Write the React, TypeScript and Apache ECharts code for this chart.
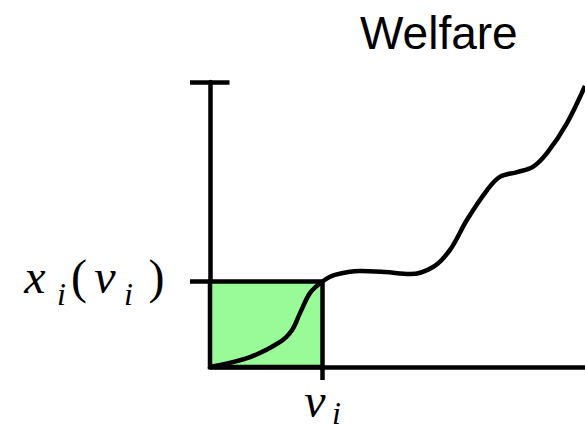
import React, { useEffect, useRef } from "react";
import * as echarts from "echarts";

// Welfare curve (abstract units: x in [0,10], y in [0,10])
const curveX = [0, 1.07, 1.87, 2.19, 2.4, 2.67, 3.0, 3.33, 4.0, 4.67, 5.33, 5.95, 6.4, 6.85, 7.39, 7.73, 8.19, 8.61, 8.99, 9.52, 10];
const curveY = [0, 0.35, 0.88, 1.3, 1.89, 2.6, 3.0, 3.23, 3.37, 3.33, 3.26, 3.51, 4.11, 5.16, 6.21, 6.67, 6.84, 7.02, 7.51, 8.56, 9.86];

const valueV = 3; // v_i
const valueX = 3; // x_i(v_i)
const axisMax = 10;
const yTickValues = [valueX, axisMax];
const xTickValues = [valueV];
const titleText = "Welfare";
// math label pieces: [glyph, kind]  kind: m = main italic, s = subscript italic, p = upright paren
const xLabelParts = [["v", "m"], ["i", "s"]];
const yLabelParts = [["x", "m"], ["i", "s"], ["(", "p"], ["v", "m"], ["i", "s"], [")", "p"]];

const mathFont = "Liberation Serif";

export default function App() {
  const ref = useRef<HTMLDivElement>(null);
  useEffect(() => {
    const chart = echarts.init(ref.current!, null, { renderer: "svg" });
    const lw = 4.5;
    chart.setOption({
      animation: false,
      title: {
        text: titleText,
        left: 360,
        top: 10,
        padding: 0,
        textStyle: {
          fontFamily: "Liberation Sans",
          fontSize: 46,
          fontWeight: "normal",
          color: "#000",
          lineHeight: 46,
        },
      },
      grid: { left: 210, right: 0, top: 82, bottom: 60, containLabel: false, outerBoundsMode: "none" },
      xAxis: {
        type: "value",
        min: 0,
        max: axisMax,
        splitLine: { show: false },
        axisLine: { show: true, lineStyle: { color: "#000", width: lw } },
        axisTick: {
          show: true,
          customValues: xTickValues,
          length: 13,
          inside: false,
          lineStyle: { color: "#000", width: lw },
        },
        axisLabel: { show: false },
      },
      yAxis: {
        type: "value",
        min: 0,
        max: axisMax,
        splitLine: { show: false },
        axisLine: { show: true, lineStyle: { color: "#000", width: lw } },
        axisTick: {
          show: true,
          customValues: yTickValues,
          length: 20,
          inside: false,
          lineStyle: { color: "#000", width: lw },
        },
        axisLabel: { show: false },
      },
      series: [
        {
          type: "line",
          data: curveX.map((x, i) => [x, curveY[i]]),
          smooth: 0.35,
          showSymbol: false,
          clip: false,
          lineStyle: { color: "#000", width: lw },
          z: 5,
          markArea: {
            silent: true,
            label: { show: false },
            itemStyle: { color: "#98FB98", borderColor: "#000", borderWidth: lw },
            data: [[{ coord: [0, 0] }, { coord: [valueV, valueX] }]],
          },
          markLine: {
            silent: true,
            symbol: "none",
            label: { show: false },
            lineStyle: { color: "#000", width: lw, type: "solid" },
            data: [[{ coord: [0, axisMax] }, { coord: [0.52, axisMax] }]],
          },
        },
      ],
    });
    const [vx, baseY] = chart.convertToPixel({ gridIndex: 0 }, [valueV, 0]) as number[];
    const [baseX, xy] = chart.convertToPixel({ gridIndex: 0 }, [0, valueX]) as number[];

    const styleFor = (kind: string) =>
      kind === "s"
        ? { fontFamily: mathFont, fontStyle: "italic", fontSize: 32 }
        : kind === "p"
        ? { fontFamily: mathFont, fontStyle: "normal", fontSize: 48 }
        : { fontFamily: mathFont, fontStyle: "italic", fontSize: 48 };

    // horizontal glyph centre offsets and vertical centre offsets (layout only)
    const xLabelDx = [-7.5, 14];
    const xLabelDy = [33.8, 45.5];
    const yLabelDx = [-175, -148.5, -131, -105, -81.5, -53.5];
    const yMainDy = -4.7;
    const ySubDy = 12.7;

    const texts: any[] = [];
    xLabelParts.forEach(([g, k], i) => {
      texts.push({
        type: "text",
        x: vx + xLabelDx[i],
        y: baseY + xLabelDy[i],
        style: { text: g, ...styleFor(k), fill: "#000", align: "center", verticalAlign: "middle" },
      });
    });
    yLabelParts.forEach(([g, k], i) => {
      texts.push({
        type: "text",
        x: baseX + yLabelDx[i],
        y: xy + (k === "s" ? ySubDy : yMainDy),
        style: { text: g, ...styleFor(k), fill: "#000", align: "center", verticalAlign: "middle" },
      });
    });
    chart.setOption({ graphic: texts });
    return () => chart.dispose();
  }, []);
  return (
    <div
      ref={ref}
      style={{ position: "fixed", left: 0, top: 0, width: 585, height: 427, background: "#fff" }}
    />
  );
}
